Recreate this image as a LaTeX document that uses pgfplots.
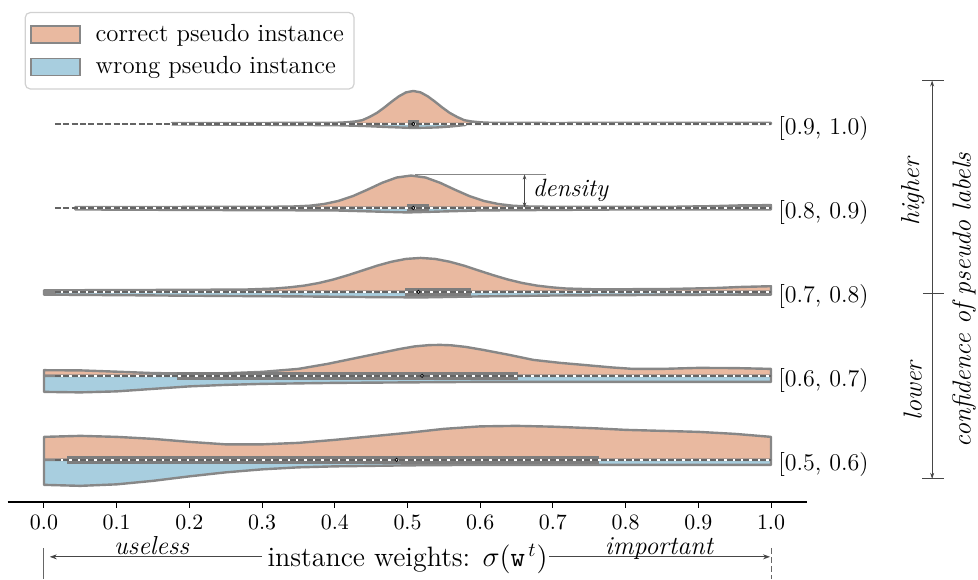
\documentclass[border=0pt]{standalone}
\usepackage{fontspec}
\usepackage{pgfplots}
\pgfplotsset{compat=1.18}
\usetikzlibrary{arrows.meta}

\definecolor{corr}{RGB}{233,185,160}
\definecolor{wrong}{RGB}{168,206,223}
\definecolor{edge}{RGB}{135,135,135}
\definecolor{boxc}{RGB}{125,125,125}
\definecolor{dashc}{RGB}{100,100,100}
\definecolor{annot}{RGB}{70,70,70}

\begin{document}
\begin{tikzpicture}
\begin{axis}[
    scale only axis,
    width=400pt, height=248.5pt,
    xmin=-0.05, xmax=1.05, ymin=-42, ymax=455,
    clip=false,
    axis x line*=bottom, axis y line=none,
    x axis line style={line width=0.8pt, black},
    xtick={0,0.1,0.2,0.3,0.4,0.5,0.6,0.7,0.8,0.9,1},
    ytick=\empty,
    xtick align=outside, major tick length=3pt,
    tick style={black, line width=0.5pt},
    xticklabel style={/pgf/number format/fixed, /pgf/number format/fixed zerofill, /pgf/number format/precision=1},
    tick label style={font=\fontsize{10.5}{12}\selectfont},
    legend style={at={(0.02125,0.986)}, anchor=north west, draw=black!18, rounded corners=2.5pt,
        line width=0.6pt, inner xsep=2.5pt, inner ysep=3.5pt, row sep=1pt, column sep=5pt,
        font=\fontsize{12.4}{14}\selectfont, nodes={inner sep=2.5pt}},
    legend cell align=left,
    legend image code/.code={\draw[#1, sharp corners] (0pt,-4.25pt) rectangle (24.5pt,4.25pt);},
    vio/.style={draw=edge, line width=1.2pt, line join=round, forget plot},
]

\addlegendimage{fill=corr, draw=edge, line width=0.7pt}
\addlegendentry{correct pseudo instance}
\addlegendimage{fill=wrong, draw=edge, line width=0.7pt}
\addlegendentry{wrong pseudo instance}

% [0.9, 1.0)  baseline 336
\addplot[vio, fill=corr] coordinates {
 (0.176,336) (0.176,337) (0.3,337) (0.388,337.1) (0.408,337.3) (0.418,337.8) (0.428,338.5)
 (0.438,339.8) (0.448,343.1) (0.458,347.1) (0.468,352.4) (0.478,358.2) (0.488,363.6)
 (0.498,367.6) (0.508,369) (0.518,367.6) (0.528,363.6) (0.538,358.2) (0.548,352.4)
 (0.558,347.1) (0.568,343.1) (0.578,339.8) (0.588,338.5) (0.598,337.8) (0.608,337.3)
 (0.628,337.1) (0.7,337) (1.0,337.2) (1.0,336) (0.176,336)};
\addplot[vio, fill=wrong] coordinates {
 (0.176,336) (0.176,335.5) (0.3,335.2) (0.4,334.8) (0.44,334) (0.47,333) (0.508,332)
 (0.54,332.5) (0.56,333.5) (0.58,335) (0.58,336) (0.176,336)};

% [0.8, 0.9)  baseline 252
\addplot[vio, fill=corr] coordinates {
 (0.043,252) (0.043,252.8) (0.2,253) (0.3,253) (0.345,253.5) (0.365,254.2) (0.385,255.9)
 (0.405,259) (0.425,263.9) (0.445,270.3) (0.465,277.1) (0.485,282.4) (0.505,284.4)
 (0.525,282.4) (0.545,277.1) (0.565,270.3) (0.585,263.9) (0.605,259) (0.625,255.9)
 (0.645,254.2) (0.665,253.5) (0.7,253.1) (0.85,253) (0.92,253.8) (0.96,254.6) (1.0,254.8)
 (1.0,252) (0.043,252)};
\addplot[vio, fill=wrong] coordinates {
 (0.043,252) (0.043,250.5) (0.2,250) (0.4,249.5) (0.45,248.5) (0.5,247.5) (0.55,248.5)
 (0.6,249.5) (0.8,250.5) (1.0,250.5) (1.0,252) (0.043,252)};

% [0.7, 0.8)  baseline 168
\addplot[vio, fill=corr] coordinates {
 (0,168) (0,169.6) (0.1,169.8) (0.2,170.1) (0.278,170.4) (0.318,171.4) (0.338,172.6)
 (0.358,174.3) (0.378,176.9) (0.398,180.4) (0.418,184.7) (0.438,189.4) (0.458,194.2)
 (0.478,198.2) (0.498,201) (0.518,202) (0.538,201) (0.558,198.2) (0.578,194.2)
 (0.598,189.4) (0.618,184.7) (0.638,180.4) (0.658,176.9) (0.678,174.3) (0.698,172.6)
 (0.718,171.4) (0.758,170.6) (0.85,170.8) (0.92,171.8) (0.96,173) (1.0,173.7) (1.0,168) (0,168)};
\addplot[vio, fill=wrong] coordinates {
 (0,168) (0,165.3) (0.2,164.2) (0.35,163.5) (0.45,162.8) (0.52,162.5) (0.6,163.5)
 (0.7,164.4) (0.85,165) (1.0,165.3) (1.0,168) (0,168)};

% [0.6, 0.7)  baseline 84
\addplot[vio, fill=corr] coordinates {
 (0,84) (0,89.7) (0.05,89.5) (0.1,88.2) (0.15,86.8) (0.2,86.3) (0.25,86.6) (0.3,88)
 (0.35,91) (0.39,96) (0.43,102) (0.47,108) (0.49,111) (0.51,113.5) (0.53,114.8)
 (0.545,115) (0.56,114.6) (0.58,113) (0.604,110) (0.64,105) (0.673,100) (0.71,97)
 (0.742,95) (0.78,92.5) (0.81,91) (0.85,91) (0.9,92) (0.95,91.8) (1.0,91) (1.0,84) (0,84)};
\addplot[vio, fill=wrong] coordinates {
 (0,84) (0,68) (0.05,67.5) (0.1,68.5) (0.15,71) (0.2,73.5) (0.25,75) (0.3,76) (0.4,77)
 (0.5,77.5) (0.6,78) (0.7,78) (0.8,78) (0.9,78) (1.0,78) (1.0,84) (0,84)};

% [0.5, 0.6)  baseline 0
\addplot[vio, fill=corr] coordinates {
 (0,0) (0,23) (0.05,24) (0.1,23) (0.15,21) (0.2,18) (0.25,15.5) (0.3,15.5) (0.35,17)
 (0.4,20) (0.45,23.5) (0.5,27) (0.55,31) (0.6,33.5) (0.65,34) (0.7,33.2) (0.76,31.5)
 (0.8,30) (0.85,29) (0.9,28) (0.95,26) (1.0,23) (1.0,0) (0,0)};
\addplot[vio, fill=wrong] coordinates {
 (0,0) (0,-25) (0.05,-26) (0.1,-24.5) (0.15,-21) (0.2,-16.5) (0.25,-12.5) (0.3,-9.5)
 (0.35,-7.5) (0.4,-6.5) (0.5,-5.5) (0.6,-5) (0.7,-5) (0.8,-5) (0.9,-5) (1.0,-5) (1.0,0) (0,0)};

% boxes (Q1 to Q3)
\addplot[fill=boxc, draw=none, forget plot] coordinates {(0.500,332) (0.516,332) (0.516,340) (0.500,340)} -- cycle;
\addplot[fill=boxc, draw=none, forget plot] coordinates {(0.499,248.5) (0.530,248.5) (0.530,255.5) (0.499,255.5)} -- cycle;
\addplot[fill=boxc, draw=none, forget plot] coordinates {(0.497,164) (0.587,164) (0.587,172) (0.497,172)} -- cycle;
\addplot[fill=boxc, draw=none, forget plot] coordinates {(0.183,80) (0.652,80) (0.652,88) (0.183,88)} -- cycle;
\addplot[fill=boxc, draw=none, forget plot] coordinates {(0.031,-4) (0.763,-4) (0.763,4) (0.031,4)} -- cycle;

% dashed reference lines
\addplot[white, line width=0.7pt, forget plot] coordinates {(0.015,336) (1,336)};
\addplot[white, line width=0.7pt, forget plot] coordinates {(0.015,252) (1,252)};
\addplot[white, line width=0.7pt, forget plot] coordinates {(0.015,168) (1,168)};
\addplot[white, line width=0.7pt, forget plot] coordinates {(0.015,84) (1,84)};
\addplot[white, line width=0.7pt, forget plot] coordinates {(0.015,0) (1,0)};
\addplot[dashc, line width=0.7pt, dash pattern=on 3pt off 1.2pt, forget plot] coordinates {(0.015,336) (1,336)};
\addplot[dashc, line width=0.7pt, dash pattern=on 3pt off 1.2pt, forget plot] coordinates {(0.015,252) (1,252)};
\addplot[dashc, line width=0.7pt, dash pattern=on 3pt off 1.2pt, forget plot] coordinates {(0.015,168) (1,168)};
\addplot[dashc, line width=0.7pt, dash pattern=on 3pt off 1.2pt, forget plot] coordinates {(0.015,84) (1,84)};
\addplot[dashc, line width=0.7pt, dash pattern=on 3pt off 1.2pt, forget plot] coordinates {(0.015,0) (1,0)};

% medians
\addplot[only marks, mark=*, mark size=0.8pt, mark options={fill=white, draw=none}, forget plot]
 coordinates {(0.508,336) (0.508,252) (0.515,168) (0.52,84) (0.485,0)};

% row labels
\begin{scope}[every node/.style={anchor=west, inner sep=0pt, font=\fontsize{12}{14}\selectfont}]
\node at (axis cs:1.0096,331.5) {[0.9, 1.0)};
\node at (axis cs:1.0096,247.5) {[0.8, 0.9)};
\node at (axis cs:1.0096,163.5) {[0.7, 0.8)};
\node at (axis cs:1.0096,79.5) {[0.6, 0.7)};
\node at (axis cs:1.0096,-4.5) {[0.5, 0.6)};
\end{scope}

% density annotation
\draw[edge, line width=0.5pt] (axis cs:0.51,285.5) -- (axis cs:0.69,285.5);
\draw[annot, line width=0.4pt, {Stealth[length=2.5pt,width=1.8pt,open]}-{Stealth[length=2.5pt,width=1.8pt,open]}]
 (axis cs:0.661,285.5) -- (axis cs:0.661,252.5);
\node[anchor=west, inner sep=0pt, font=\fontsize{12.5}{14}\selectfont\itshape] at (axis cs:0.672,269.3) {density};

% confidence bracket
\draw[annot, line width=0.4pt, {Stealth[length=3pt,width=2pt]}-{Stealth[length=3pt,width=2pt]}]
 (axis cs:1.2216,379.5) -- (axis cs:1.2216,-19);
\draw[annot, line width=0.4pt] (axis cs:1.2077,379.5) -- (axis cs:1.238,379.5);
\draw[annot, line width=0.4pt] (axis cs:1.2077,-19) -- (axis cs:1.238,-19);
\draw[annot, line width=0.4pt] (axis cs:1.209,167) -- (axis cs:1.238,167);
\node[rotate=90, inner sep=0pt, font=\fontsize{13}{15}\selectfont\itshape] at (axis cs:1.195,268) {higher};
\node[rotate=90, inner sep=0pt, font=\fontsize{13}{15}\selectfont\itshape] at (axis cs:1.195,69) {lower};
\node[rotate=90, inner sep=0pt, font=\fontsize{13}{15}\selectfont\itshape] at (axis cs:1.2655,160) {confidence of pseudo labels};

% x label with arrows
\node[inner sep=0pt, font=\fontsize{14}{16}\selectfont] at (axis cs:0.5,-99) {instance weights: $\sigma(\mathtt{w}^{\,t})$};
\draw[annot, line width=0.4pt, -{Stealth[length=3.5pt,width=2.5pt]}] (axis cs:0.300,-97) -- (axis cs:0.008,-97);
\draw[annot, line width=0.4pt, -{Stealth[length=3.5pt,width=2.5pt]}] (axis cs:0.695,-97) -- (axis cs:0.9986,-97);
\node[anchor=base, inner sep=0pt, font=\fontsize{13}{15}\selectfont\itshape] at (axis cs:0.148,-95) {useless};
\node[anchor=base, inner sep=0pt, font=\fontsize{13}{15}\selectfont\itshape] at (axis cs:0.846,-95) {important};
\draw[black!60, line width=0.5pt] (axis cs:0,-88) -- (axis cs:0,-119);
\draw[black!60, line width=0.5pt, dash pattern=on 3pt off 1.5pt] (axis cs:1,-88) -- (axis cs:1,-119);

% page extent
\path (axis cs:-0.0605,-119) rectangle (axis cs:1.2847,460);
\end{axis}
\end{tikzpicture}
\end{document}
